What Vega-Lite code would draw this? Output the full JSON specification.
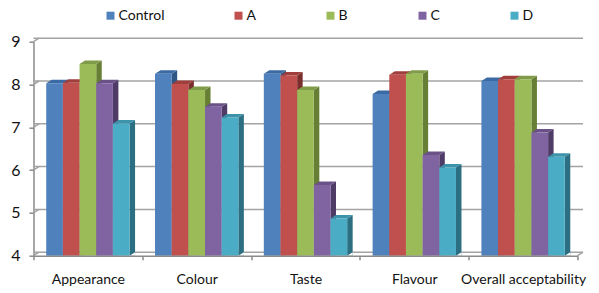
{"$schema":"https://vega.github.io/schema/vega-lite/v6.json","width":544,"height":214,"autosize":"none","padding":{"left":33.5,"top":41.7,"right":21.5,"bottom":37.3},"background":"white","config":{"view":{"stroke":null},"font":"Lato"},
"datasets":{"scores":[
{"attribute":"Appearance","series":"Control","score":8.03},{"attribute":"Appearance","series":"A","score":8.04},{"attribute":"Appearance","series":"B","score":8.48},{"attribute":"Appearance","series":"C","score":8.03},{"attribute":"Appearance","series":"D","score":7.09},
{"attribute":"Colour","series":"Control","score":8.25},{"attribute":"Colour","series":"A","score":8.01},{"attribute":"Colour","series":"B","score":7.87},{"attribute":"Colour","series":"C","score":7.48},{"attribute":"Colour","series":"D","score":7.23},
{"attribute":"Taste","series":"Control","score":8.25},{"attribute":"Taste","series":"A","score":8.21},{"attribute":"Taste","series":"B","score":7.87},{"attribute":"Taste","series":"C","score":5.65},{"attribute":"Taste","series":"D","score":4.87},
{"attribute":"Flavour","series":"Control","score":7.78},{"attribute":"Flavour","series":"A","score":8.23},{"attribute":"Flavour","series":"B","score":8.25},{"attribute":"Flavour","series":"C","score":6.35},{"attribute":"Flavour","series":"D","score":6.06},
{"attribute":"Overall acceptability","series":"Control","score":8.08},{"attribute":"Overall acceptability","series":"A","score":8.12},{"attribute":"Overall acceptability","series":"B","score":8.12},{"attribute":"Overall acceptability","series":"C","score":6.88},{"attribute":"Overall acceptability","series":"D","score":6.31}],
"levels":[{"v":4},{"v":5},{"v":6},{"v":7},{"v":8},{"v":9}]},
"data":{"name":"scores"},
"encoding":{
"x":{"field":"attribute","type":"nominal","sort":["Appearance","Colour","Taste","Flavour","Overall acceptability"],"scale":{"paddingInner":0,"paddingOuter":0},"axis":{"title":null,"labelAngle":0,"tickBand":"extent","labelFontSize":14,"labelColor":"#111111","labelPadding":13,"tickSize":4,"tickColor":"#8a8a8a","domainColor":"#8a8a8a","domainWidth":1.5,"tickWidth":1.5,"labelLimit":200,"grid":false,"zindex":1}},
"y":{"field":"score","type":"quantitative","scale":{"domain":[4,9],"zero":false,"nice":false},"axis":{"title":null,"values":[4,5,6,7,8,9],"format":"d","labelFontSize":16,"labelColor":"#111111","labelPadding":9,"tickSize":4.5,"tickColor":"#8a8a8a","domainColor":"#8a8a8a","domainWidth":1.5,"tickWidth":1.5,"grid":false}}},
"layer":[
{"data":{"name":"levels"},"mark":{"type":"rule","stroke":"#a3a3a3","strokeWidth":1.5,"xOffset":5.5,"x2Offset":5.5,"yOffset":-3.5,"y2Offset":-3.5},"encoding":{"x":null,"y":{"field":"v","type":"quantitative"}}},
{"data":{"name":"levels"},"mark":{"type":"point","shape":"M-54.4 0L-48.9 -3.5","size":4,"stroke":"#a3a3a3","strokeWidth":1.5,"filled":false,"opacity":1},"encoding":{"x":{"datum":"Appearance"},"y":{"field":"v","type":"quantitative"}}},
{"data":{"values":[{"v":4}]},"mark":{"type":"point","shape":"M54.4 0L59.9 -3.5","size":4,"stroke":"#a3a3a3","strokeWidth":1.5,"filled":false,"opacity":1},"encoding":{"x":{"datum":"Overall acceptability"},"y":{"field":"v","type":"quantitative"}}},
{"mark":{"type":"point","shape":"M8.33 0L13.83 -3.5L13.83 300L8.33 300Z","size":4,"filled":true,"opacity":1,"clip":true},"encoding":{"xOffset":{"field":"series","sort":["Control","A","B","C","D"],"scale":{"paddingInner":0,"paddingOuter":0.763}},"color":{"field":"series","scale":{"domain":["Control","A","B","C","D"],"range":["#2f5783","#7a2f2d","#677f35","#4f3c66","#2c6f82"]},"legend":null}}},
{"mark":{"type":"point","shape":"M8.33 0L13.83 -3.5L13.83 0Z","size":4,"filled":true,"opacity":1,"color":"white"},"encoding":{"xOffset":{"field":"series","sort":["Control","A","B","C","D"]},"y":{"datum":4}}},
{"mark":{"type":"point","shape":"M-8.33 0L-2.83 -3.5L13.83 -3.5L8.33 0Z","size":4,"filled":true,"opacity":1},"encoding":{"xOffset":{"field":"series","sort":["Control","A","B","C","D"]},"color":{"field":"series","scale":{"domain":["Control","A","B","C","D"],"range":["#3a6aa3","#a03e3b","#809c48","#6a5288","#3c93aa"]},"legend":null}}},
{"mark":{"type":"bar"},"encoding":{"y2":{"datum":4},"xOffset":{"field":"series","sort":["Control","A","B","C","D"]},"color":{"field":"series","scale":{"domain":["Control","A","B","C","D"],"range":["#4f81bd","#c0504d","#9bbb59","#8064a2","#4bacc6"]},"legend":{"title":null,"orient":"none","direction":"horizontal","columns":5,"legendX":70,"legendY":-33,"symbolType":"square","symbolSize":64,"symbolStrokeWidth":0,"labelFontSize":14,"labelColor":"#111111","columnPadding":67,"labelOffset":1}}}}
],
"resolve":{"scale":{"color":"independent"}}}
